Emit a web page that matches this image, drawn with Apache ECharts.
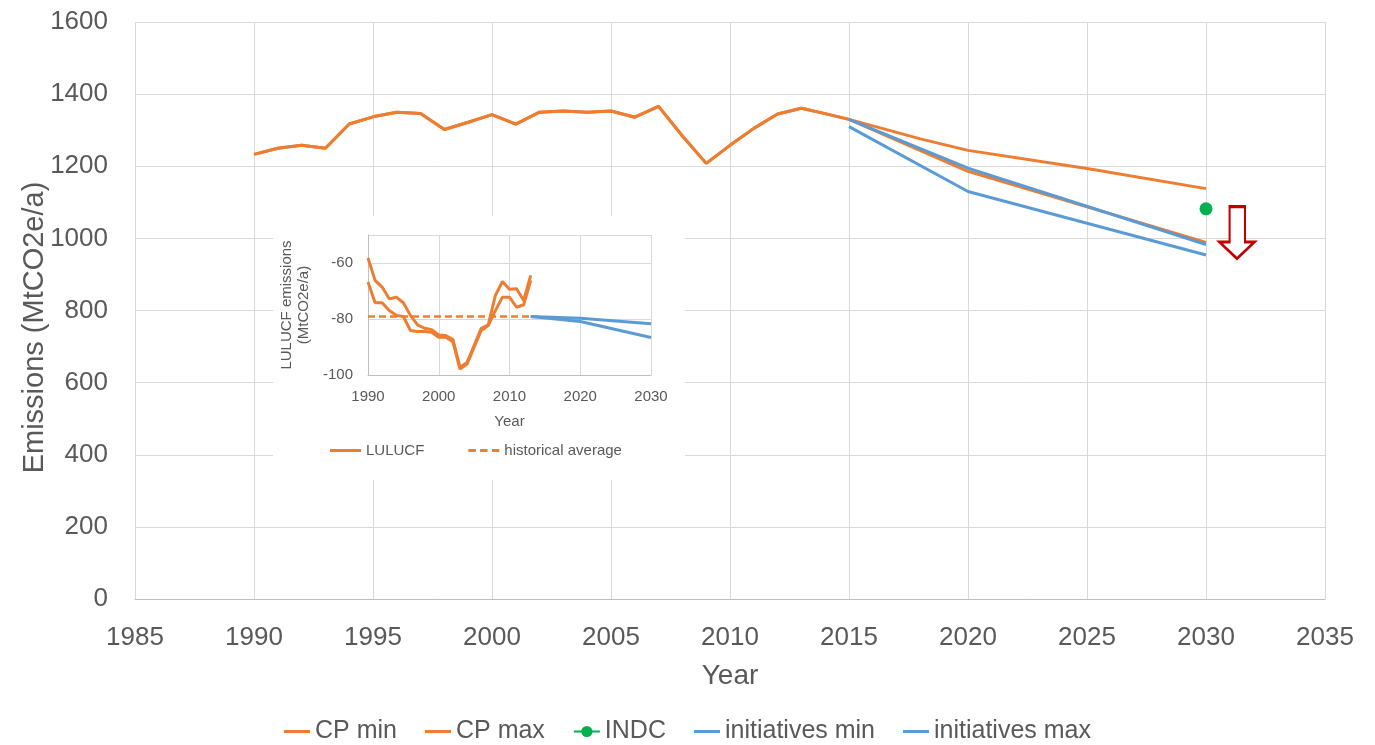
<!DOCTYPE html>
<html>
<head>
<meta charset="utf-8">
<script src="https://cdn.jsdelivr.net/npm/echarts@6/dist/echarts.min.js"></script>
<style>
html,body{margin:0;padding:0;background:#fff;}
#chart{width:1375px;height:745px;}
</style>
</head>
<body>
<div id="chart"></div>
<script>
// ---- Main chart data ----
const histYears = [1990,1991,1992,1993,1994,1995,1996,1997,1998,1999,2000,2001,2002,2003,2004,2005,2006,2007,2008,2009,2010,2011,2012,2013,2014,2015];
const histValues = [1233,1250,1258,1250,1317,1337,1350,1346,1302,1322,1343,1317,1350,1353,1350,1353,1336,1366,1284,1208,1258,1305,1345,1361,1346,1330];

const cpMaxYears = [2015,2018,2020,2025,2030];
const cpMaxValues = [1330,1276,1244,1194,1138];
const cpMinYears = [2015,2020,2030];
const cpMinValues = [1330,1186,989];
const initMinYears = [2015,2020,2030];
const initMinValues = [1330,1195,983];
const initMaxYears = [2015,2020,2030];
const initMaxValues = [1310,1130,954];
const indcYears = [2030];
const indcValues = [1082];

// ---- Inset (LULUCF) data ----
const lulYears = [1990,1991,1992,1993,1994,1995,1996,1997,1998,1999,2000,2001,2002,2003,2004,2005,2006,2007,2008,2009,2010,2011,2012,2013];
const lulA = [-58.2,-66.2,-68.6,-72.8,-72.2,-74.2,-78.7,-82.1,-83.3,-83.8,-85.7,-85.9,-87.3,-97.3,-95.5,-89.5,-83.3,-82.1,-71.6,-66.6,-69.4,-69.2,-73.4,-64.4];
const lulB = [-66.8,-74.2,-74.2,-77.0,-78.7,-79.1,-84.1,-84.5,-84.5,-84.7,-86.5,-86.5,-88.1,-97.9,-96.1,-90.1,-84.1,-82.3,-77.0,-72.2,-72.2,-75.8,-74.9,-66.2];
const avgYears = [1990,2013];
const avgValues = [-79.1,-79.1];
const lulInitYears = [2013,2020,2030];
const lulInitUpper = [-79.1,-79.7,-81.7];
const lulInitLower = [-79.1,-80.9,-86.6];

// ---- Axis ticks ----
const mainX = {min:1985, max:2035, interval:5};
const mainY = {min:0, max:1600, interval:200};
const insetX = {min:1990, max:2030, interval:10};
const insetY = {min:-100, max:-50, interval:20};

// annotation arrows (data coords)
const mainArrow = [2031.3, 1016];
const insetArrow = [2032.6, -83.9];

const pair = (xs, ys) => xs.map((x,i)=>[x, ys[i]]);

const ORANGE = '#ED7D31', BLUE = '#5B9BD5', GREEN = '#00B050', TXT = '#595959', GRID = '#D9D9D9', AXIS = '#BFBFBF';
const FONT = 'Liberation Sans';
const arrowPath = 'path://M29,0 L73,0 L73,68 L100,68 L50,100 L0,68 L29,68 Z';
const arrowPath2 = 'path://M25,0 L75,0 L75,45 L100,45 L50,100 L0,45 L25,45 Z';
const solidIcon = 'path://M0,0h26v3h-26z';
const solidIcon2 = 'path://M0,0h31v3h-31z';
const dashIcon = 'path://M0,0h7v3h-7z M11,0h7v3h-7z M22,0h7v3h-7z';

const chart = echarts.init(document.getElementById('chart'), null, {renderer:'canvas'});

const lineS = (name, data, color, xi, extra) => Object.assign({
  name, type:'line', data, xAxisIndex:xi, yAxisIndex:xi,
  symbol:'none', lineStyle:{color, width:3}, itemStyle:{color},
  z: xi===0?2:4, animation:false
}, extra||{});

const option = {
  animation:false,
  textStyle:{fontFamily:FONT},
  grid:[
    {left:135, right:50, top:22, bottom:146},
    {left:368, top:235, width:283, height:140}
  ],
  graphic:[{
    type:'rect', shape:{x:273, y:216, width:412, height:264},
    style:{fill:'#ffffff'}, z:1, silent:true
  }],
  xAxis:[
    {type:'value', gridIndex:0, min:mainX.min, max:mainX.max, interval:mainX.interval, z:0,
     name:'Year', nameLocation:'middle', nameGap:63,
     nameTextStyle:{color:TXT, fontSize:28, fontFamily:FONT},
     axisLine:{show:true, lineStyle:{color:AXIS, width:1}}, axisTick:{show:false},
     axisLabel:{color:TXT, fontSize:26, margin:26, fontFamily:FONT, formatter:v=>String(v)},
     splitLine:{show:true, lineStyle:{color:GRID, width:1}}},
    {type:'value', gridIndex:1, min:insetX.min, max:insetX.max, interval:insetX.interval, z:3,
     name:'Year', nameLocation:'middle', nameGap:39,
     nameTextStyle:{color:TXT, fontSize:15, fontFamily:FONT},
     axisLine:{show:true, lineStyle:{color:AXIS, width:1}}, axisTick:{show:false},
     axisLabel:{color:TXT, fontSize:15, margin:14, fontFamily:FONT, formatter:v=>String(v)},
     splitLine:{show:true, lineStyle:{color:GRID, width:1}}}
  ],
  yAxis:[
    {type:'value', gridIndex:0, min:mainY.min, max:mainY.max, interval:mainY.interval, z:0,
     name:'Emissions (MtCO2e/a)', nameLocation:'middle', nameGap:86, nameRotate:90, nameMoveOverlap:false,
     nameTextStyle:{color:TXT, fontSize:29, fontFamily:FONT, padding:[0,34,0,0]},
     axisLine:{show:false}, axisTick:{show:false},
     axisLabel:{color:TXT, fontSize:26, margin:27, fontFamily:FONT, formatter:v=>String(v)},
     splitLine:{show:true, lineStyle:{color:GRID, width:1}}},
    {type:'value', gridIndex:1, min:insetY.min, max:insetY.max, interval:insetY.interval, z:3,
     name:'LULUCF emissions\n(MtCO2e/a)', nameLocation:'middle', nameGap:56, nameRotate:90,
     nameTextStyle:{color:TXT, fontSize:15, fontFamily:FONT, lineHeight:17},
     axisLine:{show:true, lineStyle:{color:AXIS, width:1}}, axisTick:{show:false},
     axisLabel:{color:TXT, fontSize:15, margin:15, fontFamily:FONT, showMaxLabel:false, formatter:v=>String(v)},
     splitLine:{show:true, lineStyle:{color:GRID, width:1}}}
  ],
  legend:[
    {data:[{name:'CP min', icon:solidIcon},{name:'CP max', icon:solidIcon},{name:'INDC'},
           {name:'initiatives min', icon:solidIcon},{name:'initiatives max', icon:solidIcon}],
     left:'center', top:714, itemWidth:26, itemHeight:14, itemGap:28,
     textStyle:{color:TXT, fontSize:25, fontFamily:FONT}},
    {data:[{name:'LULUCF', icon:solidIcon2},{name:'historical average', icon:dashIcon}],
     left:325, top:438, itemWidth:31, itemHeight:10, itemGap:44,
     textStyle:{color:TXT, fontSize:15, fontFamily:FONT}}
  ],
  series:[
    lineS('CP min', pair(histYears, histValues).concat(pair(cpMinYears, cpMinValues).slice(1)), ORANGE, 0),
    lineS('CP max', pair(histYears, histValues).concat(pair(cpMaxYears, cpMaxValues).slice(1)), ORANGE, 0),
    lineS('INDC', pair(indcYears, indcValues), GREEN, 0, {symbol:'circle', symbolSize:13, showSymbol:true}),
    lineS('initiatives min', pair(initMinYears, initMinValues), BLUE, 0),
    lineS('initiatives max', pair(initMaxYears, initMaxValues), BLUE, 0, {
      markPoint:{symbol:arrowPath, symbolSize:[35,52], silent:true, animation:false,
        itemStyle:{color:'#ffffff', borderColor:'#C00000', borderWidth:2.5},
        label:{show:false}, data:[{coord:mainArrow}]}
    }),
    lineS('LULUCF', pair(lulYears, lulA), ORANGE, 1),
    lineS('LULUCF', pair(lulYears, lulB), ORANGE, 1),
    lineS('historical average', pair(avgYears, avgValues), ORANGE, 1, {lineStyle:{color:ORANGE, width:2.5, type:[7,4]}}),
    lineS('LULUCF initiatives upper', pair(lulInitYears, lulInitUpper), BLUE, 1),
    lineS('LULUCF initiatives lower', pair(lulInitYears, lulInitLower), BLUE, 1, {
      markPoint:{symbol:arrowPath2, symbolSize:[29,21], silent:true, animation:false,
        itemStyle:{color:'#ffffff', borderColor:'#C00000', borderWidth:2},
        label:{show:false}, data:[{coord:insetArrow}]}
    })
  ]
};
chart.setOption(option);
</script>
</body>
</html>
